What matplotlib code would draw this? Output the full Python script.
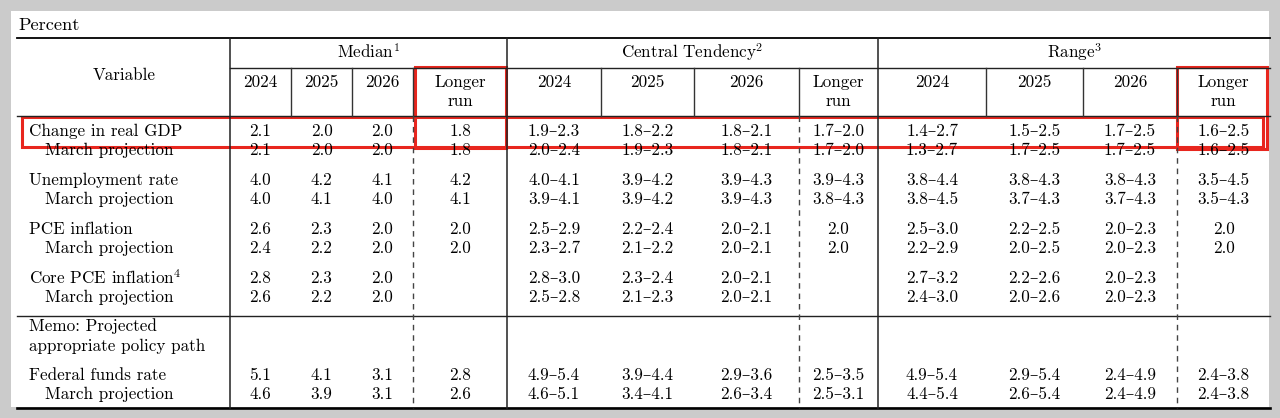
# -*- coding: utf-8 -*-
# Tabla de proyecciones economicas (SEP) dibujada con matplotlib

import matplotlib
matplotlib.use("Agg")
import matplotlib.pyplot as plt
from matplotlib.patches import Rectangle

plt.rcParams['font.family'] = ['cmr10', 'DejaVu Serif']
plt.rcParams['mathtext.fontset'] = 'cm'
plt.rcParams['axes.unicode_minus'] = False

# Datos
variables = ["Change in real GDP", "Unemployment rate", "PCE inflation",
             "Core PCE inflation$^4$", "Federal funds rate"]
years = ["2024", "2025", "2026", "Longer\nrun"]
grupos = ["Median$^1$", "Central Tendency$^2$", "Range$^3$"]

# mediana: proyeccion actual y de marzo (None = sin dato)
median_junio = [[2.1, 2.0, 2.0, 1.8], [4.0, 4.2, 4.1, 4.2], [2.6, 2.3, 2.0, 2.0],
                [2.8, 2.3, 2.0, None], [5.1, 4.1, 3.1, 2.8]]
median_marzo = [[2.1, 2.0, 2.0, 1.8], [4.0, 4.1, 4.0, 4.1], [2.4, 2.2, 2.0, 2.0],
                [2.6, 2.2, 2.0, None], [4.6, 3.9, 3.1, 2.6]]

central_junio = [[(1.9, 2.3), (1.8, 2.2), (1.8, 2.1), (1.7, 2.0)],
                 [(4.0, 4.1), (3.9, 4.2), (3.9, 4.3), (3.9, 4.3)],
                 [(2.5, 2.9), (2.2, 2.4), (2.0, 2.1), (2.0, 2.0)],
                 [(2.8, 3.0), (2.3, 2.4), (2.0, 2.1), None],
                 [(4.9, 5.4), (3.9, 4.4), (2.9, 3.6), (2.5, 3.5)]]
central_marzo = [[(2.0, 2.4), (1.9, 2.3), (1.8, 2.1), (1.7, 2.0)],
                 [(3.9, 4.1), (3.9, 4.2), (3.9, 4.3), (3.8, 4.3)],
                 [(2.3, 2.7), (2.1, 2.2), (2.0, 2.1), (2.0, 2.0)],
                 [(2.5, 2.8), (2.1, 2.3), (2.0, 2.1), None],
                 [(4.6, 5.1), (3.4, 4.1), (2.6, 3.4), (2.5, 3.1)]]

rango_junio = [[(1.4, 2.7), (1.5, 2.5), (1.7, 2.5), (1.6, 2.5)],
               [(3.8, 4.4), (3.8, 4.3), (3.8, 4.3), (3.5, 4.5)],
               [(2.5, 3.0), (2.2, 2.5), (2.0, 2.3), (2.0, 2.0)],
               [(2.7, 3.2), (2.2, 2.6), (2.0, 2.3), None],
               [(4.9, 5.4), (2.9, 5.4), (2.4, 4.9), (2.4, 3.8)]]
rango_marzo = [[(1.3, 2.7), (1.7, 2.5), (1.7, 2.5), (1.6, 2.5)],
               [(3.8, 4.5), (3.7, 4.3), (3.7, 4.3), (3.5, 4.3)],
               [(2.2, 2.9), (2.0, 2.5), (2.0, 2.3), (2.0, 2.0)],
               [(2.4, 3.0), (2.0, 2.6), (2.0, 2.3), None],
               [(4.4, 5.4), (2.6, 5.4), (2.4, 4.9), (2.4, 3.8)]]


def formato(v):
    if v is None:
        return ""
    if isinstance(v, tuple):
        if v[0] == v[1]:
            return "%.1f" % v[0]
        return "%.1f\u2013%.1f" % v
    return "%.1f" % v


# Layout (pixeles)
W, H = 1280, 418
fig = plt.figure(figsize=(W / 100, H / 100), dpi=100)
fig.patch.set_facecolor('#cbcbcb')
ax = fig.add_axes([0, 0, 1, 1])
ax.set_xlim(0, W)
ax.set_ylim(H, 0)
ax.axis('off')

ax.add_patch(Rectangle((11, 11), 1258, 396, facecolor='white', edgecolor='none'))

x_izq, x_der = 17, 1270
bordes = [230, 291, 352, 413, 507, 601, 694, 799, 878, 986, 1083, 1177, 1270]
y_top, y_sub, y_head, y_memo, y_bot = 38, 68, 116, 316, 408

fs = 12.3
ax.text(18, 25, "Percent", fontsize=13.2, va='center', ha='left')

# lineas horizontales
ax.plot([x_izq, x_der], [y_top, y_top], color='black', lw=1.3)
ax.plot([bordes[0], x_der], [y_sub, y_sub], color='#222222', lw=1.0)
ax.plot([x_izq, x_der], [y_head, y_head], color='#222222', lw=1.0)
ax.plot([x_izq, x_der], [y_memo, y_memo], color='#222222', lw=1.0)
ax.plot([x_izq, x_der], [y_bot, y_bot], color='black', lw=1.9)

# lineas verticales
for i, xb in enumerate(bordes[:-1]):
    if i % 4 == 0:
        ax.plot([xb, xb], [y_top, y_bot], color='#222222', lw=1.1)
    else:
        ax.plot([xb, xb], [y_sub, y_head], color='#333333', lw=1.0)
        if i % 4 == 3:
            ax.plot([xb, xb], [y_head, y_bot], color='#444444', lw=1.0,
                    dashes=(4, 3.5))

# encabezados
ax.text(124, 75, "Variable", fontsize=fs, ha='center', va='center')
for g, nombre in enumerate(grupos):
    xc = (bordes[g * 4] + bordes[g * 4 + 4]) / 2
    ax.text(xc, 52, nombre, fontsize=fs, ha='center', va='center')
    for j, anio in enumerate(years):
        xc = (bordes[g * 4 + j] + bordes[g * 4 + j + 1]) / 2
        if '\n' in anio:
            a, b = anio.split('\n')
            ax.text(xc, 82, a, fontsize=fs, ha='center', va='center')
            ax.text(xc, 101, b, fontsize=fs, ha='center', va='center')
        else:
            ax.text(xc, 82, anio, fontsize=fs, ha='center', va='center')

# filas
y_filas = [131, 180, 229, 278, 375]
paso = 19.5
bloques = [(median_junio, median_marzo), (central_junio, central_marzo),
           (rango_junio, rango_marzo)]
for r, var in enumerate(variables):
    y0 = y_filas[r]
    ax.text(29, y0, var, fontsize=fs, ha='left', va='center')
    ax.text(45, y0 + paso, "March projection", fontsize=fs, ha='left', va='center')
    for g, (actual, marzo) in enumerate(bloques):
        for j in range(4):
            xc = (bordes[g * 4 + j] + bordes[g * 4 + j + 1]) / 2
            ax.text(xc, y0, formato(actual[r][j]), fontsize=fs, ha='center', va='center')
            ax.text(xc, y0 + paso, formato(marzo[r][j]), fontsize=fs, ha='center', va='center')

ax.text(29, 326, "Memo: Projected", fontsize=fs, ha='left', va='center')
ax.text(29, 346, "appropriate policy path", fontsize=fs, ha='left', va='center')

# recuadros rojos
rojo = '#e8261e'
ax.add_patch(Rectangle((22, 117), 1241, 30, fill=False, edgecolor=rojo, lw=2.2))
ax.add_patch(Rectangle((415, 67), 91, 81, fill=False, edgecolor=rojo, lw=2.2))
ax.add_patch(Rectangle((1177, 67), 90, 82, fill=False, edgecolor=rojo, lw=2.2))

fig.savefig('out.png', dpi=100, facecolor=fig.get_facecolor())
